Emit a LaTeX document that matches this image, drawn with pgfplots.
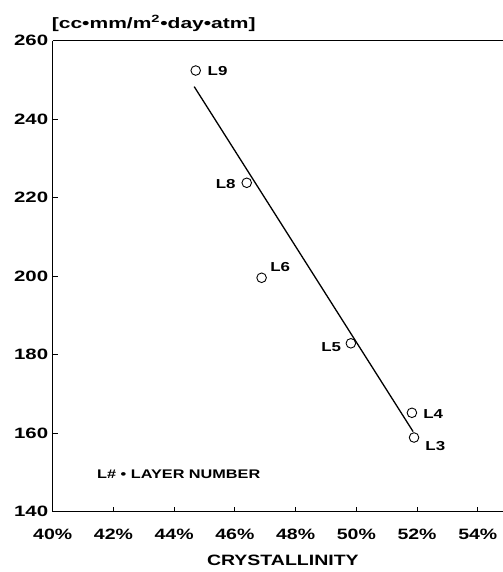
\documentclass[border=0pt]{standalone}
\usepackage{fontspec}
\setmainfont{Liberation Sans}
\usepackage{graphicx}
\usepackage{pgfplots}
\pgfplotsset{compat=1.18}
\newcommand\wide[1]{\scalebox{1.3}[1]{#1}}
\begin{document}
\begin{tikzpicture}
\begin{axis}[
  scale only axis,
  width=450.3bp, height=471bp,
  xmin=40, xmax=54.83, ymin=140, ymax=260,
  axis lines=left,
  axis line style={-, line width=1.1bp},
  tick align=inside,
  major tick length=5bp,
  tick style={line width=0.9bp, black},
  xtick={40,42,44,46,48,50,52,54},
  xticklabels={\wide{40\%},\wide{42\%},\wide{44\%},\wide{46\%},\wide{48\%},\wide{50\%},\wide{52\%},\wide{54\%}},
  ytick={140,160,180,200,220,240,260},
  yticklabel={\scalebox{1.36}[1]{\pgfmathprintnumber{\tick}}},
  /pgf/number format/assume math mode=true,
  ticklabel style={font=\fontsize{15bp}{18bp}\selectfont\bfseries},
  xticklabel style={yshift=-14bp},
  yticklabel style={xshift=-1bp},
  xlabel={\wide{CRYSTALLINITY}},
  xlabel style={at={(axis description cs:0.5,0)}, anchor=base, yshift=-54bp, xshift=5bp, font=\fontsize{15bp}{18bp}\selectfont\bfseries, inner sep=0pt},
  clip=false,
]
\coordinate (bl) at (rel axis cs:0,0);
\coordinate (tr) at (rel axis cs:1,1);
\draw[line width=1.1bp] (rel axis cs:0,1) -- (rel axis cs:1,1);
\addplot[black, line width=1.3bp, no marks] coordinates {(44.66,248.3) (51.87,160.4)};
\addplot[only marks, mark=o, mark size=4.8bp, mark options={line width=0.9bp, fill=white, draw=black}] coordinates {
(44.71,252.4) (46.39,223.8) (46.88,199.6) (49.82,182.9) (51.83,165.2) (51.90,158.9)};
\begin{scope}[every node/.style={font=\fontsize{13bp}{15bp}\selectfont\bfseries, inner sep=0pt}]
\node at (axis cs:45.43,252.15) {\wide{L9}};
\node at (axis cs:45.70,223.44) {\wide{L8}};
\node at (axis cs:47.49,202.34) {\wide{L6}};
\node at (axis cs:49.17,181.9) {\wide{L5}};
\node at (axis cs:52.53,164.84) {\wide{L4}};
\node at (axis cs:52.60,156.67) {\wide{L3}};
\node[anchor=west, font=\fontsize{12.5bp}{15bp}\selectfont\bfseries] at (axis cs:41.46,149.55) {\wide{L\# \textbullet{} LAYER NUMBER}};
\end{scope}
\node[anchor=base west, inner sep=0pt, xshift=-1bp, yshift=12.5bp, font=\fontsize{15bp}{18bp}\selectfont\bfseries] at (rel axis cs:0,1) {\scalebox{1.4}[1]{[cc\textbullet mm/m\textsuperscript{2}\textbullet day\textbullet atm]}};
\end{axis}
\pgfresetboundingbox
\path ([shift={(-52.7bp,-60.3bp)}]bl) rectangle ([shift={(0bp,40.7bp)}]tr);
\end{tikzpicture}
\end{document}
